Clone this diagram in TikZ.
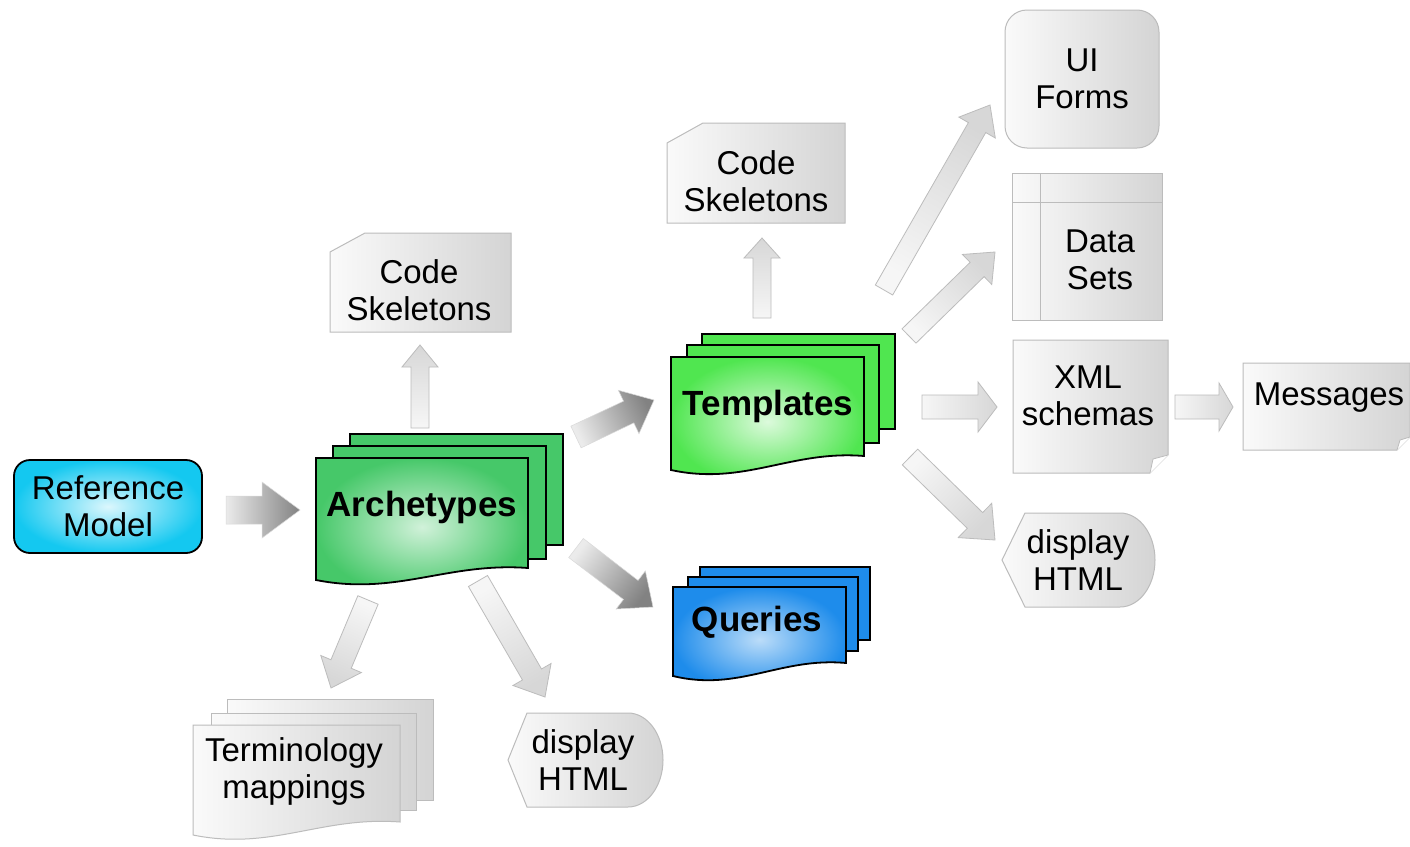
\documentclass[tikz,border=0pt]{standalone}
\usepackage{fontspec}
\setmainfont{Liberation Sans}
\usetikzlibrary{calc}
\definecolor{gborder}{RGB}{188,188,188}
\definecolor{gfillA}{RGB}{250,250,250}
\definecolor{gfillB}{RGB}{212,212,212}
\definecolor{refcyan}{RGB}{20,200,240}
\definecolor{archgreen}{RGB}{70,200,105}
\definecolor{tplgreen}{RGB}{80,230,80}
\definecolor{qblue}{RGB}{30,140,235}
\definecolor{arrowlight}{RGB}{246,246,246}
\definecolor{arrowmid}{RGB}{215,215,215}
\definecolor{arrowdark}{RGB}{130,130,130}

\newcommand\docshape[6]{%
  \path[#1] (#2,#3) -- (#4,#3) -- (#4,#5)
    .. controls ({#2+0.62*(#4-#2)},{#5-6}) and ({#2+0.38*(#4-#2)},{#6+16}) .. (#2,#6) -- cycle;}

\newcommand\blockarrow[6]{%
  \pgfmathanglebetweenpoints{\pgfpointanchor{#2}{center}}{\pgfpointanchor{#3}{center}}%
  \let\barang\pgfmathresult
  \pgfpointdiff{\pgfpointanchor{#2}{center}}{\pgfpointanchor{#3}{center}}%
  \pgfgetlastxy{\bdx}{\bdy}%
  \pgfmathsetmacro\barlen{veclen(\bdx,\bdy)}%
  \pgfmathsetmacro\barsh{\barang+90}%
  \begin{scope}[shift={(#2)},rotate=\barang]
    \path[#1, shading angle=\barsh]
      (0pt,-#4pt) -- ({\barlen pt-#6pt},-#4pt) -- ({\barlen pt-#6pt},-#5pt)
      -- (\barlen pt,0pt) -- ({\barlen pt-#6pt},#5pt) -- ({\barlen pt-#6pt},#4pt)
      -- (0pt,#4pt) -- cycle;
  \end{scope}}

\tikzset{
  lbl/.style={font=\fontsize{33}{37}\selectfont, align=center, text=black, inner sep=0pt},
  blbl/.style={font=\bfseries\fontsize{35}{38}\selectfont, align=center, text=black, inner sep=0pt},
  greybox/.style={draw=gborder, line width=1pt, left color=gfillA, right color=gfillB},
  lightarrow/.style={draw=gborder, line width=0.8pt, left color=arrowlight, right color=arrowmid},
  darkarrow/.style={draw=black!15, line width=0.5pt, left color=black!8, right color=arrowdark},
  blackedge/.style={draw=black, line width=1.8pt},
}

\begin{document}
\begin{tikzpicture}[x=1pt,y=-1pt]
\useasboundingbox[fill=white] (0,0) rectangle (1410,846);

% ---------- Reference Model ----------
\path[blackedge, rounded corners=16pt, inner color=white!85!refcyan, outer color=refcyan]
  (14,460) rectangle (202,553);
\node[lbl] (ref) at (108,506) {Reference\\Model};

% ---------- Archetypes ----------
\path[blackedge, fill=archgreen] (350,434) rectangle (563,545);
\path[blackedge, fill=archgreen] (333,446) rectangle (546,559);
\docshape{blackedge, inner color=white!75!archgreen, outer color=archgreen}{316}{458}{528}{568}{580}
\node[blbl] (arch) at (422,507) {Archetypes};

% ---------- Templates ----------
\path[blackedge, fill=tplgreen] (702,334) rectangle (895,429);
\path[blackedge, fill=tplgreen] (687,345) rectangle (879,443);
\docshape{blackedge, inner color=white!80!tplgreen, outer color=tplgreen}{671}{357}{864}{456}{470}
\node[blbl] (tpl) at (768,406) {Templates};

% ---------- Queries ----------
\path[blackedge, fill=qblue] (700,567) rectangle (870,640);
\path[blackedge, fill=qblue] (688,577) rectangle (858,651);
\docshape{blackedge, inner color=white!70!qblue, outer color=qblue}{673}{587}{846}{663}{676}
\node[blbl] (qry) at (757,622) {Queries};

% ---------- Code Skeletons (left) ----------
\path[greybox] (365,233) -- (511,233) -- (511,332) -- (330,332) -- (330,252) -- cycle;
\node[lbl] (cs1) at (419,290) {Code\\Skeletons};

% ---------- Code Skeletons (right) ----------
\path[greybox] (703,123) -- (845,123) -- (845,223) -- (667,223) -- (667,143) -- cycle;
\node[lbl] (cs2) at (756,181) {Code\\Skeletons};

% ---------- Terminology mappings ----------
\path[greybox] (227,699) rectangle (433,800);
\path[greybox] (211,713) rectangle (416,810);
\docshape{greybox}{193}{725}{400}{822}{835}
\node[lbl] (term) at (294,771) {Terminology\\mappings};

% ---------- display HTML (bottom) ----------
\path[greybox] (508,760) -- (527,713) -- (628,713)
  arc[start angle=90, end angle=-90, x radius=35pt, y radius=47pt]
  -- (527,807) -- cycle;
\node[lbl] (dh1) at (583,760) {display\\HTML};

% ---------- UI Forms ----------
\path[greybox, rounded corners=22pt] (1005,10) rectangle (1159,148);
\node[lbl] (ui) at (1082,79) {UI\\Forms};

% ---------- Data Sets ----------
\path[greybox] (1012,173) rectangle (1162,320);
\draw[gborder, line width=1pt] (1040,173) -- (1040,320) (1012,202) -- (1162,202);
\node[lbl] (ds) at (1100,260) {Data\\Sets};

% ---------- XML schemas ----------
\path[greybox] (1013,340) -- (1168,340) -- (1168,455) -- (1150,473) -- (1013,473) -- cycle;
\path[draw=gborder, fill=white, line width=0.8pt] (1168,455) -- (1153,459) -- (1150,473);
\node[lbl] (xml) at (1088,396) {XML\\schemas};

% ---------- Messages ----------
\path[greybox] (1243,363) -- (1410,363) -- (1410,437) -- (1397,450) -- (1243,450) -- cycle;
\path[draw=gborder, fill=white, line width=0.8pt] (1410,437) -- (1400,440) -- (1397,450);
\node[lbl] (msg) at (1329,398) {Messages};

% ---------- display HTML (right) ----------
\path[greybox] (1002,560) -- (1025,513) -- (1120,513)
  arc[start angle=90, end angle=-90, x radius=35pt, y radius=47pt]
  -- (1025,607) -- cycle;
\node[lbl] (dh2) at (1078,560) {display\\HTML};

% ---------- arrow end points ----------
\coordinate (r2aT) at (226,510);  \coordinate (r2aH) at (300,510);
\coordinate (a2cT) at (420,428);  \coordinate (a2cH) at (420,345);
\coordinate (t2cT) at (762,318);  \coordinate (t2cH) at (762,238);
\coordinate (a2tT) at (576,437);  \coordinate (a2tH) at (654,400);
\coordinate (a2qT) at (576,548);  \coordinate (a2qH) at (653,607);
\coordinate (a2mT) at (368,600);  \coordinate (a2mH) at (331,688);
\coordinate (a2dT) at (478,581);  \coordinate (a2dH) at (545,697);
\coordinate (t2uT) at (884,290);  \coordinate (t2uH) at (990,105);
\coordinate (t2sT) at (909,336);  \coordinate (t2sH) at (995,252);
\coordinate (t2xT) at (922,407);  \coordinate (t2xH) at (997,407);
\coordinate (x2mT) at (1175,407); \coordinate (x2mH) at (1233,407);
\coordinate (t2hT) at (910,457);  \coordinate (t2hH) at (995,540);

% ---------- arrows ----------
\blockarrow{darkarrow}{r2aT}{r2aH}{14}{28}{38}
\blockarrow{darkarrow}{a2tT}{a2tH}{12}{24}{28}
\blockarrow{darkarrow}{a2qT}{a2qH}{12}{24}{28}
\blockarrow{lightarrow}{a2cT}{a2cH}{9}{18}{22}
\blockarrow{lightarrow}{t2cT}{t2cH}{9}{18}{20}
\blockarrow{lightarrow}{a2mT}{a2mH}{11}{22}{26}
\blockarrow{lightarrow}{a2dT}{a2dH}{11}{22}{26}
\blockarrow{lightarrow}{t2uT}{t2uH}{10}{21}{26}
\blockarrow{lightarrow}{t2sT}{t2sH}{10}{21}{25}
\blockarrow{lightarrow}{t2xT}{t2xH}{12}{25}{19}
\blockarrow{lightarrow}{x2mT}{x2mH}{12}{24}{14}
\blockarrow{lightarrow}{t2hT}{t2hH}{11}{24}{28}
\end{tikzpicture}
\end{document}
